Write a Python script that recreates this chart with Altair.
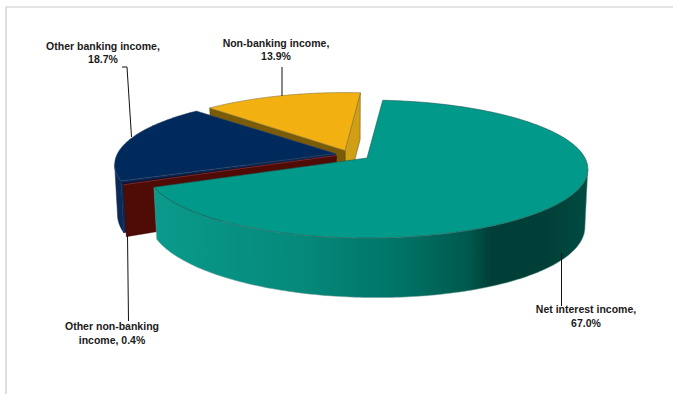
import math
import altair as alt
import pandas as pd

W, H = 673, 394

# Income shares, percent
categories = ["Net interest income", "Other non-banking income", "Other banking income", "Non-banking income"]
shares = [67.0, 0.4, 18.7, 13.9]
start_angle = 4.8

# Pie geometry: each slice has its own exploded centre and horizontal radius
centres = [(367, 158), (336.5, 155.5), (335.5, 153.5), (345, 150.5)]
radii_x = [218, 218, 218, 212]
RY, PERSP = 67.2, 0.16
# Angles where the rim turns vertically, clockwise from the top
right_tangent = 180 - math.degrees(math.acos(PERSP))
left_tangent = 180 + math.degrees(math.acos(PERSP))

top_colours = ["#00998a", "#14102e", "#002a5c", "#f2b011"]
wall_colours = ["#00796c", "#4f0b05", "#0c2a55", "#7a5c08"]
teal_stops = [(155, "#0a9a8b"), (300, "#05897b"), (400, "#007366"), (470, "#00584d"),
              (490, "#003f38"), (545, "#003f38"), (588, "#004c42")]

label_text = [
    ("Other banking income,", 103, 50), ("18.7%", 103, 63),
    ("Non-banking income,", 276, 47), ("13.9%", 276, 60),
    ("Other non-banking", 112, 330), ("income, 0.4%", 112, 344),
    ("Net interest income,", 586, 313), ("67.0%", 586, 327),
]
leaders = [
    [(122, 67), (127, 67), (131.5, 137)],
    [(282, 67), (282, 96)],
    [(127.5, 235), (128.5, 321)],
    [(561.5, 253), (561.5, 306)],
]
frame = [(6, 394), (6, 7), (673, 7)]

X = alt.X("x:Q", scale=alt.Scale(domain=[0, W], range=[0, W]), axis=None)
Y = alt.Y("y:Q", scale=alt.Scale(domain=[0, H], range=[0, H]), axis=None)


def rim(i, t):
    c, rx = centres[i], radii_x[i]
    a = math.radians(t)
    u, v = math.sin(a), math.cos(a)
    s = 1 / (1 + PERSP * v)
    return c[0] + rx * u * s, c[1] - RY * v * s


def drop(i, x, y, t):
    """Point on the underside below a top-face point."""
    c = centres[i]
    a = math.radians(t)
    u, v = math.sin(a), math.cos(a)
    d = 53 - 6.5 * v + 4 * u
    return c[0] + (x - c[0]) * 0.987, y + d


def angles(t0, t1, step=1.0):
    n = max(2, int(abs(t1 - t0) / step))
    return [t0 + (t1 - t0) * k / n for k in range(n + 1)]


def arc(i, t0, t1, step=1.0):
    return [rim(i, t) for t in angles(t0, t1, step)]


def under_arc(i, t0, t1, step=1.0):
    return [drop(i, *rim(i, t), t) for t in angles(t0, t1, step)]


def polygon(points, fill, stroke=None, width=0.6):
    pts = list(points) + [points[0]]
    df = pd.DataFrame({"x": [p[0] for p in pts], "y": [p[1] for p in pts], "seq": range(len(pts))})
    return alt.Chart(df).mark_line(fill=fill, stroke=stroke or fill, strokeWidth=width).encode(
        x=X, y=Y, order=alt.Order("seq:Q"))


def polyline(points, colour, width):
    df = pd.DataFrame({"x": [p[0] for p in points], "y": [p[1] for p in points], "seq": range(len(points))})
    return alt.Chart(df).mark_line(stroke=colour, strokeWidth=width).encode(
        x=X, y=Y, order=alt.Order("seq:Q"))


def cut_face(i, t):
    c = centres[i]
    ex, ey = rim(i, t)
    bx, by = drop(i, ex, ey, t)
    _, ay = drop(i, c[0], c[1], 0)
    return [c, (ex, ey), (bx, by), (c[0], ay)]


# Slice boundaries, clockwise from the top
bounds = [start_angle]
for share in shares:
    bounds.append(bounds[-1] + share * 3.6)

layers = []
TEAL, MAROON, NAVY, GOLD = 0, 1, 2, 3

# Gold slice: two cut faces, then the top
t0, t1 = bounds[3], bounds[4]
layers.append(polygon(cut_face(GOLD, t1), "#d19f16", "#5a4506", 0.5))
layers.append(polygon(cut_face(GOLD, t0), wall_colours[3], "#5a4506", 0.5))
layers.append(polygon([centres[GOLD]] + arc(GOLD, t0, t1), top_colours[3], "#8a7a40", 0.6))

# Navy slice: outer wall up to the left silhouette, and the near cut face
t0, t1 = bounds[2], bounds[3]
layers.append(polygon(arc(NAVY, t0, left_tangent) + under_arc(NAVY, t0, left_tangent)[::-1],
                      wall_colours[2], "#0c2a55", 0.5))
layers.append(polygon(cut_face(NAVY, t0), wall_colours[2], "#0c2a55", 0.5))

# Maroon slice: the cut face towards the viewer, then its thin top
t0m, t1m = bounds[1], bounds[2]
layers.append(polygon(cut_face(MAROON, t0m), wall_colours[1], "#3a0a05", 0.4))
layers.append(polygon([centres[MAROON]] + arc(MAROON, t0m, t1m, 0.3), top_colours[1], top_colours[1], 0.3))

# Navy top sits over the sliver
layers.append(polygon([centres[NAVY]] + arc(NAVY, t0, t1), top_colours[2], "#3a4a66", 0.5))
layers.append(polyline([centres[MAROON], rim(MAROON, t0m)], "#a8342a", 0.7))

# Teal slice: wall with a horizontal light-to-dark gradient, then the top
t0t, t1t = bounds[0], bounds[1]
wall = arc(TEAL, right_tangent, t1t) + under_arc(TEAL, right_tangent, t1t)[::-1]
xs = [p[0] for p in wall]
lo, hi = min(xs), max(xs)
gradient = alt.LinearGradient(
    gradient="linear", x1=0, x2=1, y1=0, y2=0,
    stops=[alt.GradientStop(offset=max(0, min(1, (x - lo) / (hi - lo))), color=c) for x, c in teal_stops],
)
layers.append(polygon(wall, gradient, "#6f9a94", 0.5))
layers.append(polygon([centres[TEAL]] + arc(TEAL, t0t, t1t), top_colours[0], "#1f5a52", 0.6))

# Chart frame
layers.append(polyline(frame, "#c9c9c9", 1.2))

# Leader lines
for leader in leaders:
    layers.append(polyline(leader, "#111111", 1))

# Labels
labels_df = pd.DataFrame(label_text, columns=["text", "x", "y"])
layers.append(alt.Chart(labels_df).mark_text(
    font="Liberation Sans", fontSize=10.5, fontWeight="bold", color="#1a1a1a", align="center", baseline="alphabetic"
).encode(x=X, y=Y, text="text:N"))

chart = alt.layer(*layers).properties(
    width=W, height=H, padding=0, autosize=alt.AutoSizeParams(type="none")
).configure_view(stroke=None).configure_axis(grid=False)

chart.save("out.html", embed_options={"renderer": "svg", "actions": False})
